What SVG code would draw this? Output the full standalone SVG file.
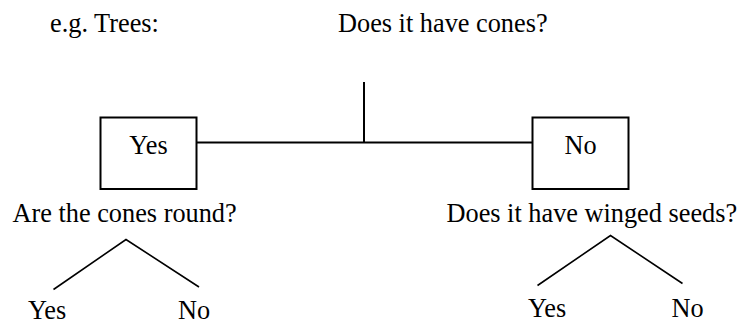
<svg xmlns="http://www.w3.org/2000/svg" width="746" height="324" viewBox="0 0 746 324">
<style>
.t{font-family:'Liberation Serif','Times New Roman',Tinos,'DejaVu Serif',serif;font-size:26.3px;fill:#000}
.box{fill:#fff;stroke:#000;stroke-width:2}
.ln{stroke:#000;stroke-width:2;fill:none}
.dg{stroke:#000;stroke-width:1.6;fill:none}
</style>
<rect width="746" height="324" fill="#fff"/>
<g id="connectors">
<line class="ln" x1="364" y1="82" x2="364" y2="142.5"/>
<line class="ln" x1="196.5" y1="142.5" x2="532.5" y2="142.5"/>
<polyline class="dg" points="53.5,289.5 126,239.5 199,287"/>
<polyline class="dg" points="537.5,285.5 610.5,235.5 682.5,283.5"/>
</g>
<g id="label-example"><text class="t" x="50" y="32">e.g. Trees:</text></g>
<g id="q-cones"><text class="t" x="338" y="32">Does it have cones?</text></g>
<g id="node-yes"><rect class="box" x="100.5" y="117.5" width="96" height="71.5"/><text class="t" x="148.5" y="153.5" text-anchor="middle">Yes</text></g>
<g id="node-no"><rect class="box" x="532.5" y="117.5" width="96" height="71.5"/><text class="t" x="580.5" y="153.5" text-anchor="middle">No</text></g>
<g id="q-round"><text class="t" x="12.5" y="222">Are the cones round?</text></g>
<g id="q-winged"><text class="t" x="446.5" y="222">Does it have winged seeds?</text></g>
<g id="leaf-round-yes"><text class="t" x="28" y="319">Yes</text></g>
<g id="leaf-round-no"><text class="t" x="178" y="319">No</text></g>
<g id="leaf-winged-yes"><text class="t" x="528" y="317">Yes</text></g>
<g id="leaf-winged-no"><text class="t" x="671.5" y="317">No</text></g>
</svg>
